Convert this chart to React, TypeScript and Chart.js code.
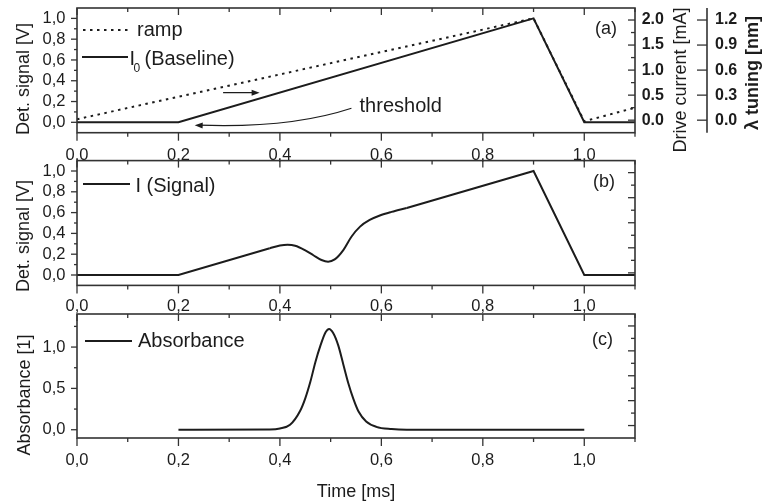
import React, { useEffect, useRef } from 'react';
import { Chart, registerables } from 'chart.js';

Chart.register(...registerables);

const W = 766;
const H = 503;
const FONT = "'Liberation Sans', Arial, Helvetica, sans-serif";
const INK = '#1c1c1c';
const FRAME = '#333333';

// ---------- tick values ----------
const timeTicks = [0, 0.2, 0.4, 0.6, 0.8, 1.0];
const timeMinorTicks = [0.1, 0.3, 0.5, 0.7, 0.9, 1.1];
const detTicks = [0, 0.2, 0.4, 0.6, 0.8, 1.0];
const detMinorTicks = [0.1, 0.3, 0.5, 0.7, 0.9];
const absTicks = [0, 0.5, 1.0];
const absMinorTicks = [0.25, 0.75, 1.25];
const currentTicks = [0, 0.5, 1.0, 1.5, 2.0];
const currentMinorTicks = [0.25, 0.75, 1.25, 1.75];
const tuningTicks = [0, 0.3, 0.6, 0.9, 1.2];

// ---------- panel (a): ramp and baseline ----------
const rampTime = [0, 0.9, 1.0, 1.1];
const rampValue = [0.03, 1.0, 0.01, 0.14];
const baselineTime = [0, 0.2, 0.9, 1.0, 1.1];
const baselineValue = [0, 0, 1.0, 0, 0];

// ---------- panel (b): signal ----------
const signalTime = [0, 0.2, 0.38, 0.4, 0.415, 0.43, 0.45, 0.466, 0.482, 0.495, 0.508, 0.525, 0.541, 0.558, 0.577, 0.597, 0.62, 0.65, 0.9, 1.0, 1.1];
const signalValue = [0, 0, 0.257, 0.283, 0.291, 0.282, 0.237, 0.19, 0.144, 0.128, 0.15, 0.24, 0.368, 0.465, 0.529, 0.572, 0.607, 0.645, 1.0, 0, 0];
const signalSmoothStart = 0.38;
const signalSmoothEnd = 0.65;

// ---------- panel (c): absorbance ----------
const absTime = [0.2, 0.38, 0.4, 0.42, 0.44, 0.45, 0.46, 0.47, 0.48, 0.49, 0.497, 0.505, 0.515, 0.525, 0.535, 0.545, 0.555, 0.57, 0.59, 0.62, 0.65, 1.0];
const absValue = [0, 0.004, 0.015, 0.06, 0.23, 0.38, 0.58, 0.82, 1.02, 1.18, 1.22, 1.17, 1.02, 0.79, 0.56, 0.37, 0.22, 0.1, 0.035, 0.008, 0, 0];

// ---------- annotation anchors (data coordinates of panel a) ----------
const scanArrow = [[0.288, 0.285], [0.36, 0.285]];
const thresholdCurve = [[0.541, 0.135], [0.42, -0.06], [0.232, -0.028]];
const thresholdLabelAt = [0.557, 0.102];

const pts = (t: number[], v: number[]) => t.map((x, i) => ({ x, y: v[i] }));
const comma = (v: any) => Number(v).toFixed(1).replace('.', ',');
const setTicks = (arr: number[]) => (s: any) => {
  s.ticks = arr.map((value) => ({ value }));
};

const tickFont = { family: FONT, size: 16.5, lineHeight: 0.9 };
const rightFont = { family: FONT, size: 16, weight: 'bold', lineHeight: 0.9 };

function xScale(tl: number) {
  return {
    type: 'linear',
    position: 'bottom',
    min: 0,
    max: 1.1,
    afterBuildTicks: setTicks(timeTicks),
    afterFit: (s: any) => {
      s.height = 40;
    },
    grid: { display: false, drawTicks: true, tickLength: tl },
    border: { display: false },
    ticks: { padding: 0, font: tickFont, color: INK, maxRotation: 0, autoSkip: false, callback: (v: any) => comma(v) },
  };
}

function yLeft(min: number, max: number, ticks: number[]) {
  return {
    type: 'linear',
    position: 'left',
    min,
    max,
    afterBuildTicks: setTicks(ticks),
    afterFit: (s: any) => {
      s.width = 77;
    },
    grid: { display: false, drawTicks: true, tickLength: 11.5 },
    border: { display: false },
    ticks: { padding: 0, font: tickFont, color: INK, autoSkip: false, callback: (v: any) => comma(v) },
  };
}

function hiddenCurrent() {
  return {
    type: 'linear',
    position: 'right',
    min: -0.25,
    max: 2.24,
    afterFit: (s: any) => {
      s.width = 0;
    },
    grid: { display: false, drawTicks: false },
    border: { display: false },
    ticks: { display: false },
  };
}

function seg(ctx: any, x1: number, y1: number, x2: number, y2: number) {
  ctx.beginPath();
  ctx.moveTo(x1, y1);
  ctx.lineTo(x2, y2);
  ctx.stroke();
}

function arrowHead(ctx: any, tx: number, ty: number, fx: number, fy: number, len = 8, half = 3) {
  const a = Math.atan2(ty - fy, tx - fx);
  const bx = tx - len * Math.cos(a);
  const by = ty - len * Math.sin(a);
  ctx.beginPath();
  ctx.moveTo(tx, ty);
  ctx.lineTo(bx + half * Math.sin(a), by - half * Math.cos(a));
  ctx.lineTo(bx - half * Math.sin(a), by + half * Math.cos(a));
  ctx.closePath();
  ctx.fill();
}

function txt(ctx: any, s: string, x: number, y: number, font: string, align = 'left') {
  ctx.save();
  ctx.font = font;
  ctx.fillStyle = INK;
  ctx.textAlign = align;
  ctx.textBaseline = 'alphabetic';
  ctx.fillText(s, x, y);
  ctx.restore();
}

function vtxt(ctx: any, s: string, x: number, cy: number, font: string) {
  ctx.save();
  ctx.translate(x, cy);
  ctx.rotate(-Math.PI / 2);
  ctx.font = font;
  ctx.fillStyle = INK;
  ctx.textAlign = 'center';
  ctx.textBaseline = 'alphabetic';
  ctx.fillText(s, 0, 0);
  ctx.restore();
}

function legendLine(ctx: any, x1: number, x2: number, y: number, dotted: boolean) {
  ctx.save();
  ctx.strokeStyle = INK;
  ctx.lineWidth = 2;
  if (dotted) ctx.setLineDash([2.5, 4.5]);
  seg(ctx, x1, y, x2, y);
  ctx.restore();
}

function drawFrame(chart: any, yMajor: number[], yMinor: number[]) {
  const { ctx, chartArea: a } = chart;
  const sx = chart.scales.x;
  const sy = chart.scales.y;
  const sr = chart.scales.y2;
  ctx.save();
  ctx.strokeStyle = FRAME;
  ctx.lineWidth = 1.3;
  for (const t of timeTicks) {
    const p = sx.getPixelForValue(t);
    seg(ctx, p, a.bottom, p, a.bottom + 8);
    seg(ctx, p, a.top, p, a.top + 7);
  }
  for (const t of timeMinorTicks) {
    const p = sx.getPixelForValue(t);
    seg(ctx, p, a.bottom, p, a.bottom + 4);
    seg(ctx, p, a.top, p, a.top + 4);
  }
  for (const v of yMajor) {
    const p = sy.getPixelForValue(v);
    seg(ctx, a.left - 6, p, a.left, p);
  }
  for (const v of yMinor) {
    const p = sy.getPixelForValue(v);
    seg(ctx, a.left - 3, p, a.left, p);
  }
  for (const v of currentTicks) {
    const p = sr.getPixelForValue(v);
    seg(ctx, a.right - 7, p, a.right, p);
  }
  for (const v of currentMinorTicks) {
    const p = sr.getPixelForValue(v);
    seg(ctx, a.right - 4, p, a.right, p);
  }
  ctx.lineWidth = 1.6;
  ctx.strokeRect(a.left, a.top, a.right - a.left, a.bottom - a.top);
  ctx.restore();
}

const F = (size: number, bold = false) => `${bold ? 'bold ' : ''}${size}px ${FONT}`;

function drawA(chart: any) {
  const { ctx, chartArea: a } = chart;
  const sx = chart.scales.x;
  const sy = chart.scales.y;
  const sl = chart.scales.y3;
  drawFrame(chart, detTicks, detMinorTicks);
  ctx.save();
  // lambda axis
  ctx.strokeStyle = FRAME;
  ctx.lineWidth = 1.6;
  seg(ctx, sl.left, a.top, sl.left, a.bottom);
  ctx.lineWidth = 1.3;
  for (const v of tuningTicks) {
    const p = sl.getPixelForValue(v);
    seg(ctx, sl.left - 10, p, sl.left, p);
  }
  // scan direction arrow
  ctx.strokeStyle = INK;
  ctx.fillStyle = INK;
  ctx.lineWidth = 1.2;
  const [s0, s1] = scanArrow.map(([t, v]) => [sx.getPixelForValue(t), sy.getPixelForValue(v)]);
  seg(ctx, s0[0], s0[1], s1[0] - 4, s1[1]);
  arrowHead(ctx, s1[0], s1[1], s0[0], s0[1]);
  // threshold arrow
  const [c0, c1, c2] = thresholdCurve.map(([t, v]) => [sx.getPixelForValue(t), sy.getPixelForValue(v)]);
  ctx.beginPath();
  ctx.moveTo(c0[0], c0[1]);
  ctx.quadraticCurveTo(c1[0], c1[1], c2[0] + 4, c2[1]);
  ctx.stroke();
  arrowHead(ctx, c2[0], c2[1], c1[0], c1[1]);
  ctx.restore();
  txt(ctx, 'threshold', sx.getPixelForValue(thresholdLabelAt[0]), sy.getPixelForValue(thresholdLabelAt[1]), F(20));
  // legend
  legendLine(ctx, a.left + 6, a.left + 51, 30, true);
  txt(ctx, 'ramp', a.left + 60, 36, F(20));
  legendLine(ctx, a.left + 5, a.left + 51, 57, false);
  txt(ctx, 'I', a.left + 52.5, 65, F(20));
  txt(ctx, '0', a.left + 56.5, 72, F(12));
  txt(ctx, '(Baseline)', a.left + 67.5, 65, F(20));
  // panel label
  txt(ctx, '(a)', 617, 34, F(18), 'right');
  // axis titles
  vtxt(ctx, 'Det. signal [V]', 29, 79, F(18));
  vtxt(ctx, 'Drive current [mA]', 686, 80, F(18));
  vtxt(ctx, '\u03bb tuning [nm]', 758, 73, F(18, true));
}

function drawB(chart: any) {
  const { ctx, chartArea: a } = chart;
  drawFrame(chart, detTicks, detMinorTicks);
  legendLine(ctx, a.left + 6, a.left + 53, 184, false);
  txt(ctx, 'I (Signal)', a.left + 58.5, 191.5, F(20));
  txt(ctx, '(b)', 615, 187, F(18), 'right');
  vtxt(ctx, 'Det. signal [V]', 29, 236, F(18));
}

function drawC(chart: any) {
  const { ctx, chartArea: a } = chart;
  drawFrame(chart, absTicks, absMinorTicks);
  legendLine(ctx, a.left + 8, a.left + 55, 341, false);
  txt(ctx, 'Absorbance', a.left + 61, 347, F(20));
  txt(ctx, '(c)', 613, 345, F(18), 'right');
  vtxt(ctx, 'Absorbance [1]', 30, 395, F(18));
  txt(ctx, 'Time [ms]', (a.left + a.right) / 2, 497, F(18), 'center');
}

const lineStyle = { borderColor: INK, borderWidth: 2, pointRadius: 0, fill: false, tension: 0, xAxisID: 'x', yAxisID: 'y' };

function common(padding: any, scales: any) {
  return {
    responsive: false,
    animation: false,
    devicePixelRatio: 1,
    events: [],
    layout: { padding },
    plugins: { legend: { display: false }, tooltip: { enabled: false } },
    scales,
  };
}

function configA(): any {
  return {
    type: 'line',
    data: {
      datasets: [
        { ...lineStyle, data: pts(baselineTime, baselineValue) },
        { ...lineStyle, data: pts(rampTime, rampValue), borderDash: [2.5, 4.5] },
      ],
    },
    options: common({ top: 8, left: 0, right: 0, bottom: 330.3 }, {
      x: xScale(15),
      y: yLeft(-0.1, 1.1, detTicks),
      y2: {
        type: 'linear',
        position: 'right',
        weight: 0,
        min: -0.25,
        max: 2.24,
        afterBuildTicks: setTicks(currentTicks),
        afterFit: (s: any) => {
          s.width = 72;
        },
        grid: { display: false, drawTicks: true, tickLength: 6.7 },
        border: { display: false },
        ticks: { padding: 0, font: rightFont, color: INK, autoSkip: false, callback: (v: any) => Number(v).toFixed(1) },
      },
      y3: {
        type: 'linear',
        position: 'right',
        weight: 1,
        min: -0.15,
        max: 1.344,
        afterBuildTicks: setTicks(tuningTicks),
        afterFit: (s: any) => {
          s.width = 59;
        },
        grid: { display: false, drawTicks: true, tickLength: 8 },
        border: { display: false },
        ticks: { padding: 0, font: rightFont, color: INK, autoSkip: false, callback: (v: any) => Number(v).toFixed(1) },
      },
    }),
    plugins: [{ id: 'decorA', afterDraw: drawA }],
  };
}

function configB(): any {
  const all = pts(signalTime, signalValue);
  const straight1 = all.filter((p) => p.x <= signalSmoothStart);
  const smooth = all.filter((p) => p.x >= signalSmoothStart && p.x <= signalSmoothEnd);
  const straight2 = all.filter((p) => p.x >= signalSmoothEnd);
  return {
    type: 'line',
    data: {
      datasets: [
        { ...lineStyle, data: straight1 },
        { ...lineStyle, data: smooth, cubicInterpolationMode: 'monotone' },
        { ...lineStyle, data: straight2 },
      ],
    },
    options: common({ top: 160.6, left: 0, right: 131, bottom: 177.6 }, {
      x: xScale(13.5),
      y: yLeft(-0.1, 1.1, detTicks),
      y2: hiddenCurrent(),
    }),
    plugins: [{ id: 'decorB', afterDraw: drawB }],
  };
}

function configC(): any {
  return {
    type: 'line',
    data: {
      datasets: [{ ...lineStyle, data: pts(absTime, absValue), cubicInterpolationMode: 'monotone' }],
    },
    options: common({ top: 314, left: 0, right: 131, bottom: 25 }, {
      x: xScale(15),
      y: yLeft(-0.1, 1.4, absTicks),
      y2: hiddenCurrent(),
    }),
    plugins: [{ id: 'decorC', afterDraw: drawC }],
  };
}

export default function App() {
  const refA = useRef<HTMLCanvasElement>(null);
  const refB = useRef<HTMLCanvasElement>(null);
  const refC = useRef<HTMLCanvasElement>(null);

  useEffect(() => {
    const charts = [
      new Chart(refA.current as HTMLCanvasElement, configA()),
      new Chart(refB.current as HTMLCanvasElement, configB()),
      new Chart(refC.current as HTMLCanvasElement, configC()),
    ];
    return () => charts.forEach((c) => c.destroy());
  }, []);

  const cs: React.CSSProperties = { position: 'absolute', left: 0, top: 0, width: W, height: H };
  return (
    <div style={{ position: 'fixed', left: 0, top: 0, width: W, height: H, background: '#ffffff', overflow: 'hidden' }}>
      <canvas ref={refA} width={W} height={H} style={cs} />
      <canvas ref={refB} width={W} height={H} style={cs} />
      <canvas ref={refC} width={W} height={H} style={cs} />
    </div>
  );
}
